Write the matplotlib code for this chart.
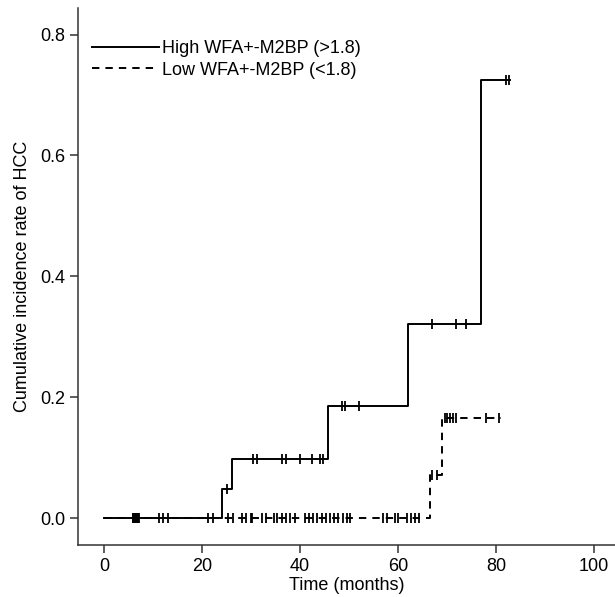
import numpy as np
import matplotlib
matplotlib.use("Agg")
import matplotlib.pyplot as plt

plt.rcParams['font.family'] = ['Liberation Sans', 'DejaVu Sans']

# Step curves (time in months, cumulative incidence)
high_times = [0, 24.0, 26.1, 45.7, 62.0, 76.9, 82.9]
high_rates = [0, 0.048, 0.098, 0.185, 0.321, 0.725, 0.725]
low_times = [0, 66.5, 68.9, 81.0]
low_rates = [0, 0.071, 0.165, 0.165]

# Censored observations
high_censor = [6.0, 6.3, 6.6, 6.9, 7.2, 11.2, 12.1, 13.0, 21.3, 22.2,
               25.1, 30.5, 31.2, 36.3, 37.1, 40.0, 42.5, 44.0, 44.7,
               48.5, 49.1, 52.1, 67.0, 71.8, 73.9, 82.0, 82.7]
low_censor = [6.0, 6.3, 6.6, 6.9, 25.4, 26.3, 28.1, 28.9, 30.0, 30.3, 32.2, 33.0,
              34.6, 35.4, 36.3, 37.1, 38.0, 39.0, 41.0, 41.8, 42.7, 43.5,
              44.4, 45.3, 46.1, 47.0, 47.8, 48.7, 49.5, 50.3, 57.0, 57.7,
              59.4, 60.1, 61.8, 62.7, 63.5, 64.3, 66.9, 68.0,
              69.6, 70.1, 70.7, 71.3, 71.8, 77.9, 80.7]

labels = ['High WFA+-M2BP (>1.8)', 'Low WFA+-M2BP (<1.8)']


def step_value(times, rates, t):
    idx = np.searchsorted(times, t, side='right') - 1
    return np.array(rates)[idx]


fig = plt.figure(figsize=(6.15, 5.97), dpi=100)
ax = fig.add_axes([0.127, 0.087, 0.873, 0.9])

dash = (0, (3.8, 3.1))
ax.plot(high_times, high_rates, drawstyle='steps-post', color='black', lw=1.4,
        label=labels[0])
ax.plot(low_times, low_rates, drawstyle='steps-post', color='black', lw=1.4,
        linestyle=dash, label=labels[1])

# censor ticks
ax.plot(high_censor, step_value(high_times, high_rates, high_censor), ls='none',
        marker='|', ms=7, mew=1.3, color='black')
ax.plot(low_censor, step_value(low_times, low_rates, low_censor), ls='none',
        marker='|', ms=7, mew=1.3, color='black')

ax.set_xlim(-5.3, 104.3)
ax.set_ylim(-0.0447, 0.8444)
ax.set_xticks([0, 20, 40, 60, 80, 100])
ax.set_yticks([0.0, 0.2, 0.4, 0.6, 0.8])
ax.set_yticklabels(['0.0', '0.2', '0.4', '0.6', '0.8'])
ax.tick_params(labelsize=13, length=6, width=1.1, color='#333333')
for s in ['top', 'right']:
    ax.spines[s].set_visible(False)
for s in ['left', 'bottom']:
    ax.spines[s].set_linewidth(1.1)
    ax.spines[s].set_color('#333333')

ax.set_xlabel('Time (months)', fontsize=13, labelpad=1)
ax.set_ylabel('Cumulative incidence rate of HCC', fontsize=13, labelpad=6)

ax.legend(loc='upper left', bbox_to_anchor=(0.013, 0.953), frameon=False,
          fontsize=13, handlelength=3.7, handletextpad=0.15, labelspacing=0.25,
          borderaxespad=0)

fig.savefig('out.png', dpi=100)
